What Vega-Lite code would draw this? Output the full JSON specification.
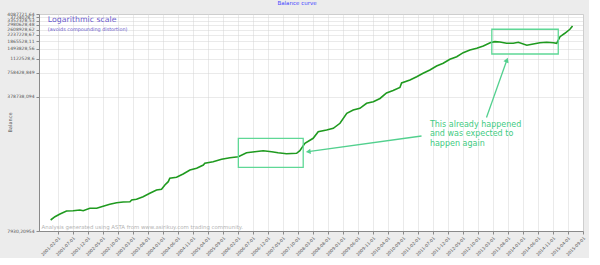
{
  "$schema": "https://vega.github.io/schema/vega-lite/v6.json",
  "width": 544,
  "height": 217,
  "autosize": {"type": "none"},
  "padding": {"left": 39, "top": 14, "right": 6, "bottom": 27},
  "background": "#ececec",
  "title": {"text": "Balance curve", "fontSize": 5.5, "color": "#4646ff", "fontWeight": "normal", "font": "DejaVu Sans", "anchor": "middle", "dx": -14, "offset": 5},
  "config": {
    "view": {"fill": "white", "stroke": "#c8c8c8"},
    "axis": {"labelFont": "DejaVu Sans", "titleFont": "DejaVu Sans", "domainColor": "#8a8a8a", "tickColor": "#8a8a8a", "gridColor": "#d4d4d4", "gridDash": [1, 1], "labelColor": "#555555", "titleColor": "#555555", "tickSize": 3}
  },
  "datasets": {
    "balance": [
      {"date": "2000-11-18", "balance": 10884},
      {"date": "2001-01-01", "balance": 11972},
      {"date": "2001-02-21", "balance": 12937},
      {"date": "2001-04-28", "balance": 14103},
      {"date": "2001-07-04", "balance": 14226},
      {"date": "2001-09-11", "balance": 14514},
      {"date": "2001-10-14", "balance": 14226},
      {"date": "2001-12-21", "balance": 15245},
      {"date": "2002-02-28", "balance": 15245},
      {"date": "2002-04-18", "balance": 15963},
      {"date": "2002-07-11", "balance": 17105},
      {"date": "2002-09-18", "balance": 17910},
      {"date": "2002-11-24", "balance": 18273},
      {"date": "2003-02-01", "balance": 18433},
      {"date": "2003-02-18", "balance": 19356},
      {"date": "2003-04-08", "balance": 19752},
      {"date": "2003-06-14", "balance": 21286},
      {"date": "2003-08-21", "balance": 23482},
      {"date": "2003-10-28", "balance": 25810},
      {"date": "2003-12-18", "balance": 26338},
      {"date": "2004-01-21", "balance": 29807},
      {"date": "2004-02-24", "balance": 32780},
      {"date": "2004-03-11", "balance": 36151},
      {"date": "2004-05-18", "balance": 37207},
      {"date": "2004-07-24", "balance": 40907},
      {"date": "2004-10-01", "balance": 45898},
      {"date": "2004-12-08", "balance": 48206},
      {"date": "2005-02-14", "balance": 53017},
      {"date": "2005-03-01", "balance": 55685},
      {"date": "2005-05-24", "balance": 58310},
      {"date": "2005-08-18", "balance": 62480},
      {"date": "2005-11-11", "balance": 65420},
      {"date": "2006-02-04", "balance": 67330},
      {"date": "2006-04-28", "balance": 75540},
      {"date": "2006-07-21", "balance": 77740},
      {"date": "2006-10-14", "balance": 80010},
      {"date": "2007-01-08", "balance": 77740},
      {"date": "2007-03-14", "balance": 75540},
      {"date": "2007-06-08", "balance": 73400},
      {"date": "2007-09-18", "balance": 74250},
      {"date": "2007-10-21", "balance": 80010},
      {"date": "2007-12-11", "balance": 99000},
      {"date": "2008-03-04", "balance": 114320},
      {"date": "2008-04-24", "balance": 138200},
      {"date": "2008-07-18", "balance": 145100},
      {"date": "2008-09-24", "balance": 152400},
      {"date": "2008-12-01", "balance": 176000},
      {"date": "2009-02-08", "balance": 234800},
      {"date": "2009-04-14", "balance": 258100},
      {"date": "2009-06-21", "balance": 271100},
      {"date": "2009-08-28", "balance": 313000},
      {"date": "2009-11-04", "balance": 327800},
      {"date": "2010-01-11", "balance": 359400},
      {"date": "2010-03-18", "balance": 421000},
      {"date": "2010-05-24", "balance": 452400},
      {"date": "2010-08-01", "balance": 493300},
      {"date": "2010-08-18", "balance": 561500},
      {"date": "2010-11-11", "balance": 612000},
      {"date": "2011-01-18", "balance": 673200},
      {"date": "2011-03-24", "balance": 742500},
      {"date": "2011-06-01", "balance": 816300},
      {"date": "2011-08-08", "balance": 915900},
      {"date": "2011-10-14", "balance": 989900},
      {"date": "2011-12-21", "balance": 1110600},
      {"date": "2012-02-28", "balance": 1197000},
      {"date": "2012-05-04", "balance": 1343000},
      {"date": "2012-07-11", "balance": 1451000},
      {"date": "2012-09-18", "balance": 1524000},
      {"date": "2012-11-24", "balance": 1628000},
      {"date": "2013-02-01", "balance": 1791000},
      {"date": "2013-03-21", "balance": 1843000},
      {"date": "2013-05-11", "balance": 1827000},
      {"date": "2013-07-18", "balance": 1760000},
      {"date": "2013-09-24", "balance": 1760000},
      {"date": "2013-11-14", "balance": 1812000},
      {"date": "2014-02-08", "balance": 1662000},
      {"date": "2014-04-14", "balance": 1725000},
      {"date": "2014-06-21", "balance": 1791000},
      {"date": "2014-08-28", "balance": 1812000},
      {"date": "2014-11-04", "balance": 1791000},
      {"date": "2014-12-08", "balance": 1760000},
      {"date": "2015-01-11", "balance": 2129000},
      {"date": "2015-03-01", "balance": 2348000},
      {"date": "2015-04-21", "balance": 2634000},
      {"date": "2015-05-18", "balance": 2896000}
    ],
    "boxes": [
      {"date": "2006-02-04", "date2": "2007-11-24", "balance": 49620, "balance2": 114320},
      {"date": "2013-02-18", "date2": "2014-12-24", "balance": 1293700, "balance2": 2634000}
    ],
    "arrows": [
      {"id": "a1", "date": "2011-03-08", "balance": 122100, "date2": "2008-01-14", "balance2": 77740},
      {"id": "a2", "date": "2012-12-26", "balance": 208000, "date2": "2013-07-21", "balance2": 1088400}
    ],
    "heads": [
      {"id": "a1", "date": "2008-01-14", "balance": 77740},
      {"id": "a2", "date": "2013-07-21", "balance": 1088400}
    ],
    "callout": [
      {"date": "2011-06-01", "balance": 188100, "label": "This already happened\nand was expected to\nhappen again"}
    ],
    "heading": [
      {"date": "2000-10-21", "balance": 3442000, "label": "Logarithmic scale"}
    ],
    "subheading": [
      {"date": "2000-10-21", "balance": 2581000, "label": "(avoids compounding distortion)"}
    ],
    "credit": [
      {"date": "2000-08-18", "balance": 8980, "label": "Analysis generated using ASTA from www.asirikuy.com trading community."}
    ]
  },
  "encoding": {
    "x": {
      "field": "date", "type": "temporal", "title": null,
      "scale": {"type": "utc", "nice": false, "domain": [{"year": 2000, "month": 7, "date": 23, "utc": true}, {"year": 2015, "month": 9, "date": 1, "utc": true}]},
      "axis": {
        "values": [
          {"year": 2001, "month": 2, "date": 1, "utc": true}, {"year": 2001, "month": 7, "date": 1, "utc": true}, {"year": 2001, "month": 12, "date": 1, "utc": true},
          {"year": 2002, "month": 5, "date": 1, "utc": true}, {"year": 2002, "month": 10, "date": 1, "utc": true}, {"year": 2003, "month": 3, "date": 1, "utc": true},
          {"year": 2003, "month": 8, "date": 1, "utc": true}, {"year": 2004, "month": 1, "date": 1, "utc": true}, {"year": 2004, "month": 6, "date": 1, "utc": true},
          {"year": 2004, "month": 11, "date": 1, "utc": true}, {"year": 2005, "month": 4, "date": 1, "utc": true}, {"year": 2005, "month": 9, "date": 1, "utc": true},
          {"year": 2006, "month": 2, "date": 1, "utc": true}, {"year": 2006, "month": 7, "date": 1, "utc": true}, {"year": 2006, "month": 12, "date": 1, "utc": true},
          {"year": 2007, "month": 5, "date": 1, "utc": true}, {"year": 2007, "month": 10, "date": 1, "utc": true}, {"year": 2008, "month": 3, "date": 1, "utc": true},
          {"year": 2008, "month": 8, "date": 1, "utc": true}, {"year": 2009, "month": 1, "date": 1, "utc": true}, {"year": 2009, "month": 6, "date": 1, "utc": true},
          {"year": 2009, "month": 11, "date": 1, "utc": true}, {"year": 2010, "month": 4, "date": 1, "utc": true}, {"year": 2010, "month": 9, "date": 1, "utc": true},
          {"year": 2011, "month": 2, "date": 1, "utc": true}, {"year": 2011, "month": 7, "date": 1, "utc": true}, {"year": 2011, "month": 12, "date": 1, "utc": true},
          {"year": 2012, "month": 5, "date": 1, "utc": true}, {"year": 2012, "month": 10, "date": 1, "utc": true}, {"year": 2013, "month": 3, "date": 1, "utc": true},
          {"year": 2013, "month": 8, "date": 1, "utc": true}, {"year": 2014, "month": 1, "date": 1, "utc": true}, {"year": 2014, "month": 6, "date": 1, "utc": true},
          {"year": 2014, "month": 11, "date": 1, "utc": true}, {"year": 2015, "month": 4, "date": 1, "utc": true}, {"year": 2015, "month": 9, "date": 1, "utc": true}
        ],
        "format": "%Y-%m-%d", "labelAngle": -45, "labelAlign": "right", "labelFontSize": 4.3, "labelFlush": false, "labelOverlap": false, "labelPadding": 2, "grid": true
      }
    },
    "y": {
      "field": "balance", "type": "quantitative", "title": "Balance",
      "scale": {"type": "log", "nice": false, "domain": [7930.20954, 4087721.64]},
      "axis": {
        "values": [7930.20954, 378738.094, 758428.849, 1122528.6, 1493828.56, 1865528.11, 2237228.67, 2608928.62, 2980628.48, 3352328.53, 3724028.1, 4087721.64],
        "labelExpr": "replace(toString(datum.value), '.', ',')",
        "labelFontSize": 4.5, "labelOverlap": false, "labelPadding": 2, "grid": true,
        "titleFontSize": 5, "titleFontWeight": "normal", "titleX": -27, "titleY": 108
      }
    }
  },
  "layer": [
    {
      "data": {"name": "balance"},
      "mark": {"type": "line", "color": "#1f9a1f", "strokeWidth": 1.6}
    },
    {
      "data": {"name": "boxes"},
      "mark": {"type": "rect", "filled": false, "stroke": "#5fd896", "strokeWidth": 1.3},
      "encoding": {"x2": {"field": "date2"}, "y2": {"field": "balance2"}}
    },
    {
      "data": {"name": "arrows"},
      "mark": {"type": "rule", "color": "#52d08e", "strokeWidth": 1.3},
      "encoding": {"x2": {"field": "date2"}, "y2": {"field": "balance2"}}
    },
    {
      "data": {"name": "heads"},
      "transform": [{"filter": "datum.id == 'a1'"}],
      "mark": {"type": "point", "shape": "triangle-up", "filled": true, "color": "#52d08e", "size": 30, "angle": 262, "opacity": 1}
    },
    {
      "data": {"name": "heads"},
      "transform": [{"filter": "datum.id == 'a2'"}],
      "mark": {"type": "point", "shape": "triangle-up", "filled": true, "color": "#52d08e", "size": 30, "angle": 22, "opacity": 1}
    },
    {
      "data": {"name": "callout"},
      "mark": {"type": "text", "align": "left", "baseline": "top", "lineBreak": "\n", "lineHeight": 9.3, "font": "DejaVu Sans", "fontSize": 8, "color": "#3fcb82"},
      "encoding": {"text": {"field": "label"}}
    },
    {
      "data": {"name": "heading"},
      "mark": {"type": "text", "align": "left", "baseline": "middle", "font": "DejaVu Sans", "fontSize": 7.8, "color": "#6a5acd"},
      "encoding": {"text": {"field": "label"}}
    },
    {
      "data": {"name": "subheading"},
      "mark": {"type": "text", "align": "left", "baseline": "middle", "font": "DejaVu Sans", "fontSize": 4.9, "color": "#6a5acd"},
      "encoding": {"text": {"field": "label"}}
    },
    {
      "data": {"name": "credit"},
      "mark": {"type": "text", "align": "left", "baseline": "middle", "font": "DejaVu Sans", "fontSize": 5.4, "color": "#b4b4b4"},
      "encoding": {"text": {"field": "label"}}
    }
  ]
}
